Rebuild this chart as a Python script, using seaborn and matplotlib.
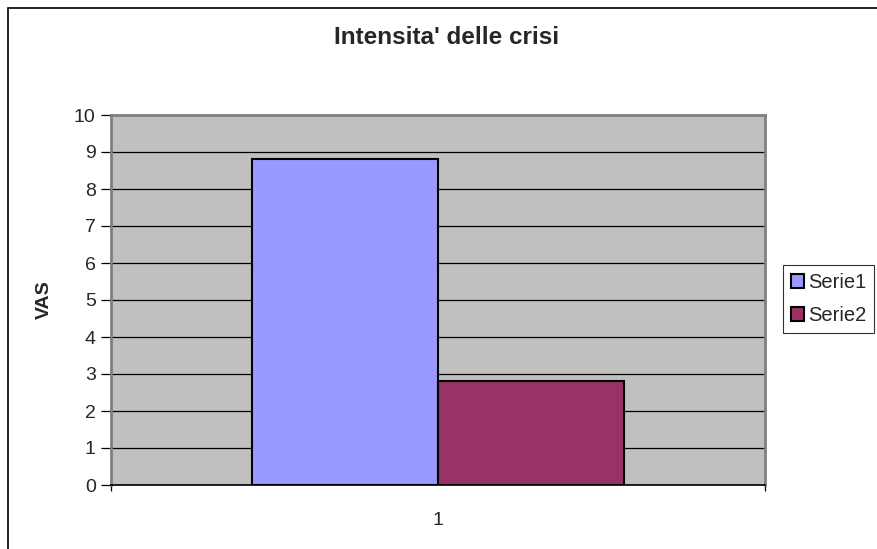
"""
Bar chart: Intensita' delle crisi (VAS), two series.
"""

import pandas as pd
import seaborn as sns
import matplotlib.pyplot as plt
from matplotlib.patches import Rectangle

# Data
categories = ["1", "1"]
series = ["Serie1", "Serie2"]
values = [8.8, 2.8]
yticks = [0, 1, 2, 3, 4, 5, 6, 7, 8, 9, 10]

colors = {"Serie1": "#9999FF", "Serie2": "#993366"}

df = pd.DataFrame({"cat": categories, "serie": series, "VAS": values})

sns.set_style("white")
plt.rcParams["font.family"] = ["Liberation Sans", "DejaVu Sans"]

fig = plt.figure(figsize=(8.77, 5.49), dpi=100)
ax = fig.add_axes([111 / 877, 1 - 485 / 549, 654 / 877, 370 / 549])
ax.set_facecolor("#C0C0C0")

sns.barplot(data=df, x="cat", y="VAS", hue="serie", palette=colors,
            width=0.57, edgecolor="black", linewidth=1.5, saturation=1,
            ax=ax, zorder=3)

ax.set_xlim(-0.5, 0.5)
ax.set_ylim(0, 10)
ax.set_yticks(yticks)
ax.set_yticklabels([str(t) for t in yticks], fontsize=14)
ax.yaxis.grid(True, color="black", linewidth=0.9, zorder=1)
ax.set_axisbelow(True)
ax.tick_params(axis="y", direction="out", length=7, width=0.9,
               color="black", left=True, pad=4)
ax.tick_params(axis="x", which="major", bottom=False, labelsize=14, pad=16)
ax.set_xticks([-0.5, 0.5], minor=True)
ax.tick_params(axis="x", which="minor", bottom=True, direction="out",
               length=4, width=0.9, color="black")

for side in ["left", "right", "top"]:
    ax.spines[side].set_color("#808080")
    ax.spines[side].set_linewidth(2)
ax.spines["bottom"].set_color("black")
ax.spines["bottom"].set_linewidth(1.2)

ax.set_xlabel("")
ax.set_ylabel("VAS", fontsize=14, fontweight="bold", labelpad=15)

fig.text(447 / 877, 1 - 38 / 549, "Intensita' delle crisi",
         fontsize=17.5, fontweight="bold", ha="center", va="center")

leg = ax.legend(loc="upper left", bbox_to_anchor=(783 / 877, 1 - 265 / 549),
                bbox_transform=fig.transFigure, fontsize=14.5, frameon=True,
                fancybox=False, edgecolor="black", handlelength=0.65,
                handleheight=0.65, handletextpad=0.2, borderpad=0.4,
                labelspacing=0.7, borderaxespad=0)
leg.get_frame().set_linewidth(0.8)
for h in leg.legend_handles:
    h.set_edgecolor("black")
    h.set_linewidth(1.5)

# Outer chart frame
fig.patches.append(Rectangle((8 / 877, -0.1), 1.1, 1 - 8 / 549 + 0.1,
                             transform=fig.transFigure, fill=False,
                             edgecolor="black", linewidth=1.2))

fig.savefig("out.png", dpi=100)
